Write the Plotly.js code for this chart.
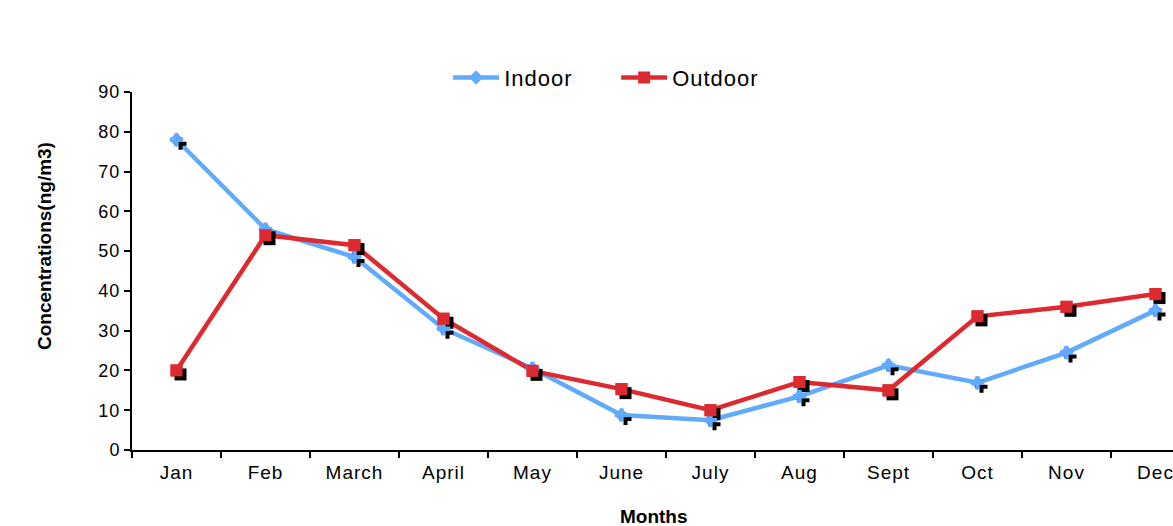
<!DOCTYPE html>
<html>
<head>
<meta charset="utf-8">
<script src="https://cdn.plot.ly/plotly-3.0.1.min.js"></script>
<style>
  html, body { margin: 0; padding: 0; background: #fff; overflow: hidden; }
  #chart { width: 1215px; height: 526px; }
  .xtick text, .ytick text, .legendtext { letter-spacing: 1px; }
</style>
</head>
<body>
<div id="chart"></div>
<script>
// Monthly concentrations (ng/m3)
const months = ['Jan', 'Feb', 'March', 'April', 'May', 'June', 'July', 'Aug', 'Sept', 'Oct', 'Nov', 'Dec'];
const indoor = [78, 55.5, 48.5, 30.5, 20.5, 8.8, 7.5, 13.5, 21.3, 16.9, 24.5, 35.1];
const outdoor = [20, 54, 51.5, 33, 19.9, 15.3, 10, 17.1, 15, 33.6, 36, 39.2];

const blue = '#62AAFB';
const red = '#DD2A31';
const font = 'Liberation Sans, Arial, Helvetica, sans-serif';

// Plot geometry; the shadow axes are the main axes shifted by a few pixels
const W = 1215, H = 526;
const margin = {l: 132, r: 15, t: 92, b: 76};
const plotW = W - margin.l - margin.r;
const plotH = H - margin.t - margin.b;
const shadowPx = 4;
const xr = [-0.5, 11.5];
const yr = [0, 90];
const dxu = shadowPx * (xr[1] - xr[0]) / plotW;
const dyu = shadowPx * (yr[1] - yr[0]) / plotH;

const traces = [
  {x: months, y: indoor, name: 'Indoor', type: 'scatter', mode: 'lines+markers',
   line: {color: blue, width: 4.5}, marker: {color: blue, symbol: 'diamond', size: 11}},
  {x: months, y: outdoor, name: 'Outdoor', type: 'scatter', mode: 'lines+markers',
   line: {color: red, width: 4.5}, marker: {color: red, symbol: 'square', size: 12}},
  // marker shadows
  {x: months, y: indoor, xaxis: 'x2', yaxis: 'y2', mode: 'markers', showlegend: false, hoverinfo: 'skip',
   marker: {color: '#000', symbol: 'cross', size: 10}},
  {x: months, y: outdoor, xaxis: 'x2', yaxis: 'y2', mode: 'markers', showlegend: false, hoverinfo: 'skip',
   marker: {color: '#000', symbol: 'square', size: 12}},
  // markers drawn above their shadows
  {x: months, y: indoor, xaxis: 'x3', yaxis: 'y3', mode: 'markers', showlegend: false,
   marker: {color: blue, symbol: 'cross', size: 11}},
  {x: months, y: outdoor, xaxis: 'x3', yaxis: 'y3', mode: 'markers', showlegend: false,
   marker: {color: red, symbol: 'square', size: 12}}
];

const hidden = {showgrid: false, zeroline: false, showline: false,
  showticklabels: false, ticks: '', fixedrange: true};

const layout = {
  width: W, height: H, margin: margin,
  paper_bgcolor: '#fff', plot_bgcolor: '#fff',
  font: {family: font, color: '#000', size: 19},
  showlegend: true,
  legend: {orientation: 'h', x: 0.296, xanchor: 'left', y: 1.04, yanchor: 'middle',
    font: {size: 22, family: font}, itemwidth: 46, entrywidth: 107, entrywidthmode: 'pixels',
    tracegroupgap: 0},
  xaxis: {type: 'category', range: xr, showgrid: false, zeroline: false,
    showline: true, linecolor: '#000', linewidth: 2,
    ticks: 'outside', tickson: 'boundaries', ticklen: 6, tickwidth: 2, tickcolor: '#000',
    tickfont: {size: 19}, ticklabelstandoff: 4},
  yaxis: {range: yr, dtick: 10, showgrid: false, zeroline: false,
    showline: true, linecolor: '#000', linewidth: 2,
    ticks: 'outside', ticklen: 6, tickwidth: 2, tickcolor: '#000',
    tickfont: {size: 18}},
  xaxis2: Object.assign({}, hidden, {type: 'category', overlaying: 'x', range: [xr[0] - dxu, xr[1] - dxu]}),
  yaxis2: Object.assign({}, hidden, {type: 'linear', overlaying: 'y', range: [yr[0] + dyu, yr[1] + dyu]}),
  xaxis3: Object.assign({}, hidden, {type: 'category', overlaying: 'x', range: xr}),
  yaxis3: Object.assign({}, hidden, {type: 'linear', overlaying: 'y', range: yr}),
  annotations: [
    {text: '<b>Months</b>', xref: 'paper', yref: 'paper', x: (654 - margin.l) / plotW,
     y: -(516 - (H - margin.b)) / plotH, xanchor: 'center', yanchor: 'middle',
     showarrow: false, font: {size: 19}},
    {text: '<b>Concentrations(ng/m3)</b>', xref: 'paper', yref: 'paper', textangle: -90,
     x: -(margin.l - 44) / plotW, y: ((H - margin.b) - 246) / plotH,
     xanchor: 'center', yanchor: 'middle', showarrow: false, font: {size: 19}}
  ]
};

Plotly.newPlot('chart', traces, layout, {displayModeBar: false, staticPlot: true});
</script>
</body>
</html>
